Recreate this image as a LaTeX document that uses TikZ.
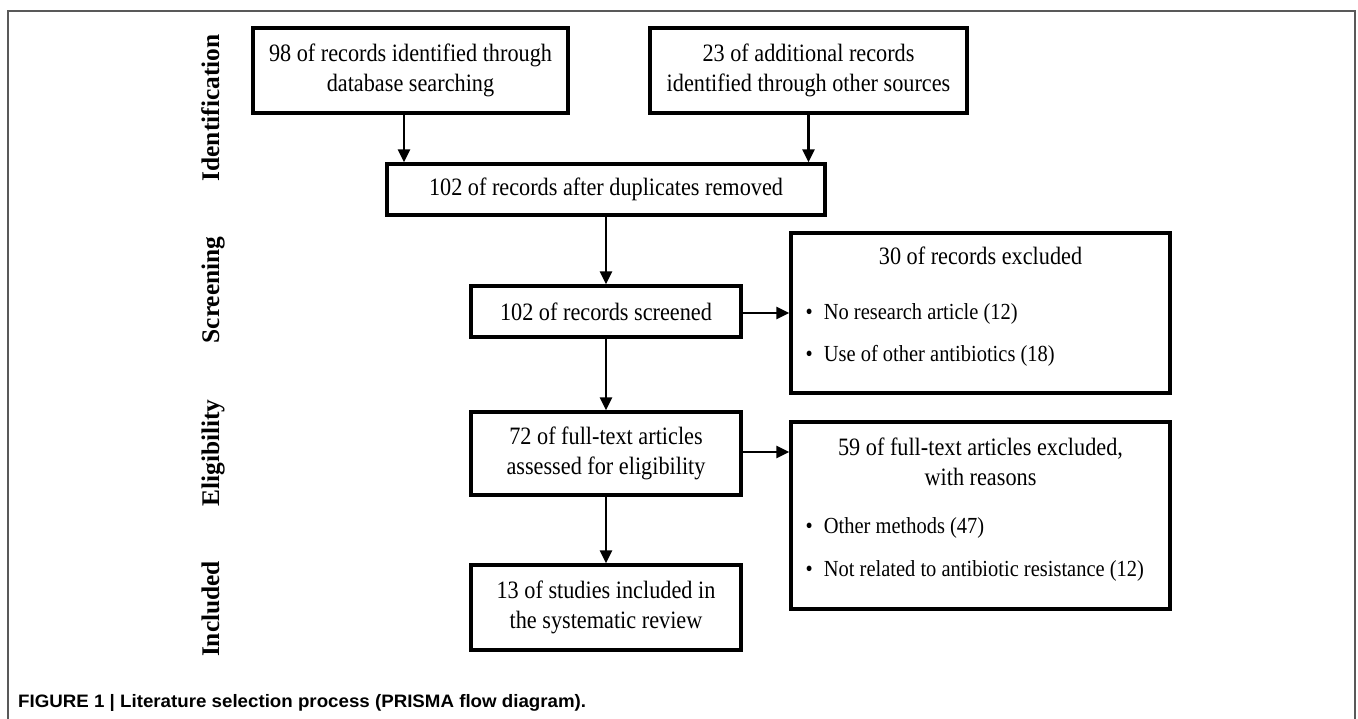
\documentclass[tikz,border=0pt]{standalone}
\usepackage{fontspec}
\setmainfont{Liberation Serif}[FakeStretch=0.89]
\newfontfamily\labfont{Liberation Serif}
\newfontfamily\capfont{Liberation Sans}[FakeStretch=1.04]
\usetikzlibrary{arrows.meta}
\newcommand\boxfont{\fontsize{25pt}{30pt}\selectfont}
\newcommand\bulfont{\fontsize{23pt}{28pt}\selectfont}
\tikzset{
  box/.style={draw=black, line width=3.2pt, inner sep=0pt, align=center, font=\boxfont},
  arr/.style={draw=black, line width=2.6pt, -{Triangle[length=13pt,width=12pt]}},
  lab/.style={rotate=90, anchor=base, font=\labfont\bfseries\fontsize{25.4pt}{30pt}\selectfont},
  title/.style={anchor=base, inner sep=0pt, font=\boxfont},
  bullet/.style={anchor=base west, inner sep=0pt, font=\bulfont},
  frameline/.style={draw=black!65, line width=1.4pt}
}
\begin{document}
\begin{tikzpicture}[x=1pt,y=-1pt]
\fill[white] (0,0) rectangle (1358,719);
\useasboundingbox (0,0) rectangle (1358,719);
\draw[frameline] (8,719) -- (8,11) -- (1355,11) -- (1355,719);

% stage labels
\node[lab] (lid) at (219,108) {Identification};
\node[lab] (lsc) at (219,290) {Screening};
\node[lab] (lel) at (219,453) {Eligibility};
\node[lab] (lin) at (219,609) {Included};

% boxes
\node[box, minimum width=315pt, minimum height=85pt] (b1) at (410.5,70.5)
  {98 of records identified through\\database searching};
\node[box, minimum width=317pt, minimum height=85pt] (b2) at (808.5,70.5)
  {23 of additional records\\identified through other sources};
\node[box, minimum width=438pt, minimum height=51pt] (b3) at (606,189.5)
  {102 of records after duplicates removed};
\node[box, minimum width=270pt, minimum height=51pt] (b4) at (606,311.5)
  {102 of records screened};
\node[box, minimum width=379pt, minimum height=160pt] (b5) at (980.5,313) {};
\node[box, minimum width=270pt, minimum height=83pt] (b6) at (606,453.5)
  {72 of full-text articles\\assessed for eligibility};
\node[box, minimum width=379pt, minimum height=187pt] (b7) at (980.5,515.5) {};
\node[box, minimum width=270pt, minimum height=85pt] (b8) at (606,607.5)
  {13 of studies included in\\the systematic review};

% texts inside exclusion boxes
\node[title] (t5) at (980.5,265) {30 of records excluded};
\node[bullet] (t5a) at (805.5,319.5) {•\hspace{11pt}No research article (12)};
\node[bullet] (t5b) at (805.5,361.5) {•\hspace{11pt}Use of other antibiotics (18)};
\node[title] (t7) at (980.5,455) {59 of full-text articles excluded,};
\node[title] (t7w) at (980.5,485) {with reasons};
\node[bullet] (t7a) at (805.5,533.5) {•\hspace{11pt}Other methods (47)};
\node[bullet] (t7b) at (805.5,576.5) {•\hspace{11pt}Not related to antibiotic resistance (12)};

% connectors
\coordinate (c1) at (404,0);
\draw[arr] (b1.south -| c1) -- (b3.north -| c1);
\draw[arr] (b2.south) -- (b2.south |- b3.north);
\draw[arr] (b3.south) -- (b4.north);
\draw[arr] (b4.south) -- (b6.north);
\draw[arr] (b6.south) -- (b8.north);
\coordinate (c2) at (0,313);
\draw[arr] (b4.east |- c2) -- (b5.west |- c2);
\coordinate (c3) at (0,452);
\draw[arr] (b6.east |- c3) -- (b7.west |- c3);

% caption
\node[anchor=base west, inner sep=0pt, font=\capfont\bfseries\fontsize{18pt}{20pt}\selectfont] (cap) at (18,707)
  {FIGURE 1 | Literature selection process (PRISMA flow diagram).};
\end{tikzpicture}
\end{document}
